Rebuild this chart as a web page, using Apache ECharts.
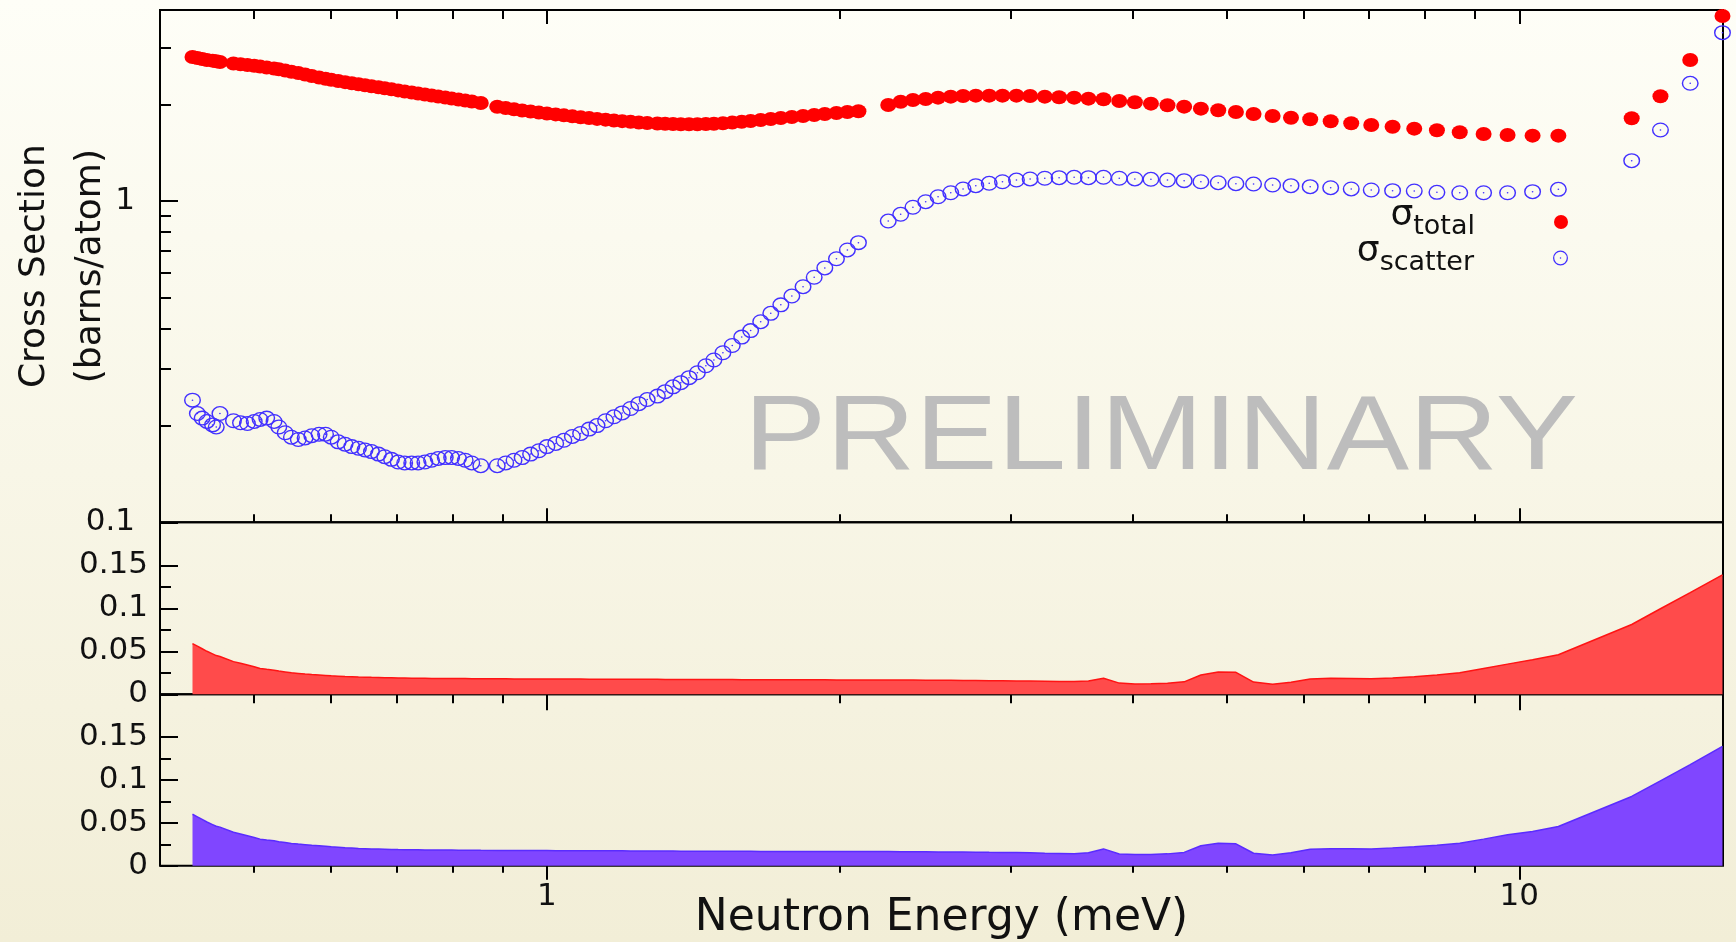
<!DOCTYPE html>
<html>
<head>
<meta charset="utf-8">
<script src="https://cdn.jsdelivr.net/npm/echarts@6/dist/echarts.min.js"></script>
<style>
  html, body { margin: 0; padding: 0; background: #f8f6e6; }
  #main { width: 1736px; height: 942px; }
</style>
</head>
<body>
<div id="main"></div>
<script>
// ---------------- data ----------------
// Neutron energy of each point (meV)
const energy = [
  0.432, 0.437, 0.442, 0.447, 0.453, 0.457, 0.461,
  0.476, 0.484, 0.492, 0.500, 0.507, 0.515, 0.524, 0.530, 0.538, 0.546,
  0.555, 0.564, 0.573, 0.583, 0.592, 0.600, 0.610, 0.620, 0.630, 0.640,
  0.650, 0.660, 0.671, 0.681, 0.692, 0.703, 0.714, 0.726, 0.737, 0.749,
  0.761, 0.773, 0.786, 0.798, 0.811, 0.824, 0.837, 0.855,
  0.889, 0.907, 0.925, 0.943, 0.962, 0.981, 1.000, 1.021, 1.041, 1.062,
  1.083, 1.105, 1.126, 1.149, 1.172, 1.195, 1.219, 1.243, 1.268,
  1.299, 1.323, 1.348, 1.373, 1.400, 1.428, 1.457, 1.485, 1.517, 1.551,
  1.586, 1.620, 1.659, 1.699, 1.740, 1.786, 1.834, 1.883, 1.931, 1.985,
  2.037, 2.091,
  2.244, 2.311, 2.379, 2.452, 2.525, 2.602, 2.679, 2.761, 2.850, 2.941,
  3.040, 3.140, 3.251, 3.363, 3.485, 3.605, 3.736, 3.878, 4.024, 4.180,
  4.347, 4.522, 4.705, 4.902, 5.112, 5.330, 5.576, 5.824, 6.095, 6.398,
  6.717, 7.043, 7.408, 7.798, 8.228, 8.685, 9.190, 9.727, 10.32, 10.97,
  13.05, 13.97, 14.99, 16.18
];
// total cross section (barns/atom)
const sigmaTotal = [
  2.807, 2.787, 2.767, 2.747, 2.734, 2.722, 2.708,
  2.679, 2.664, 2.650, 2.635, 2.620, 2.603, 2.585, 2.570, 2.548, 2.524,
  2.503, 2.476, 2.449, 2.423, 2.402, 2.383, 2.363, 2.343, 2.326, 2.309,
  2.291, 2.275, 2.260, 2.244, 2.228, 2.209, 2.192, 2.176, 2.161, 2.145,
  2.130, 2.115, 2.098, 2.083, 2.068, 2.053, 2.039, 2.018,
  1.964, 1.947, 1.929, 1.913, 1.898, 1.884, 1.872, 1.860, 1.847, 1.834,
  1.822, 1.811, 1.801, 1.791, 1.781, 1.772, 1.763, 1.755, 1.749,
  1.743, 1.739, 1.737, 1.734, 1.734, 1.734, 1.737, 1.740, 1.746, 1.754,
  1.764, 1.774, 1.787, 1.800, 1.813, 1.826, 1.839, 1.852, 1.866, 1.879,
  1.892, 1.903,
  1.990, 2.037, 2.062, 2.077, 2.097, 2.112, 2.123, 2.127, 2.127, 2.127,
  2.127, 2.123, 2.112, 2.103, 2.097, 2.082, 2.073, 2.048, 2.029, 2.009,
  1.986, 1.966, 1.938, 1.916, 1.892, 1.866, 1.839, 1.816, 1.796, 1.770,
  1.745, 1.724, 1.703, 1.679, 1.660, 1.636, 1.616, 1.605, 1.597, 1.597,
  1.809, 2.118, 2.747, 3.766
];
// scattering cross section (barns/atom)
const sigmaScatter = [
  0.240, 0.218, 0.211, 0.206, 0.201, 0.198, 0.218,
  0.207, 0.204, 0.203, 0.206, 0.209, 0.211, 0.206, 0.198, 0.190, 0.184,
  0.181, 0.183, 0.186, 0.188, 0.188, 0.184, 0.178, 0.175, 0.172, 0.170,
  0.168, 0.166, 0.163, 0.160, 0.157, 0.154, 0.153, 0.153, 0.153, 0.154,
  0.156, 0.158, 0.159, 0.159, 0.158, 0.156, 0.153, 0.150,
  0.150, 0.153, 0.156, 0.159, 0.163, 0.167, 0.172, 0.176, 0.180, 0.185,
  0.189, 0.195, 0.200, 0.207, 0.213, 0.219, 0.226, 0.234, 0.241,
  0.247, 0.255, 0.264, 0.272, 0.282, 0.292, 0.307, 0.320, 0.337, 0.355,
  0.377, 0.395, 0.421, 0.447, 0.475, 0.506, 0.541, 0.579, 0.619, 0.661,
  0.704, 0.742,
  0.866, 0.909, 0.956, 0.995, 1.031, 1.061, 1.090, 1.116, 1.135, 1.148,
  1.162, 1.171, 1.177, 1.182, 1.185, 1.182, 1.185, 1.177, 1.171, 1.168,
  1.162, 1.157, 1.148, 1.140, 1.132, 1.129, 1.121, 1.116, 1.108, 1.100,
  1.090, 1.082, 1.077, 1.074, 1.064, 1.061, 1.061, 1.061, 1.069, 1.087,
  1.335, 1.663, 2.324, 3.341
];
// uncertainty of total cross section (middle panel)
const errTotal = [
  0.059, 0.056, 0.053, 0.050, 0.047, 0.045, 0.044,
  0.038, 0.036, 0.034, 0.032, 0.030, 0.029, 0.028, 0.027, 0.026, 0.025,
  0.0243, 0.0236, 0.0230, 0.0225, 0.0220, 0.0215, 0.0211, 0.0207, 0.0204, 0.0201,
  0.0199, 0.0197, 0.0195, 0.0193, 0.0192, 0.0190, 0.0189, 0.0188, 0.0187, 0.0186,
  0.0185, 0.0185, 0.0184, 0.0184, 0.0183, 0.0183, 0.0182, 0.0181,
  0.0180, 0.0180, 0.0179, 0.0179, 0.0179, 0.0178, 0.0178, 0.0178, 0.0177, 0.0177,
  0.0177, 0.0176, 0.0176, 0.0176, 0.0175, 0.0175, 0.0175, 0.0174, 0.0174,
  0.0174, 0.0173, 0.0173, 0.0173, 0.0172, 0.0172, 0.0172, 0.0171, 0.0171, 0.0171,
  0.0170, 0.0170, 0.0170, 0.0169, 0.0169, 0.0169, 0.0168, 0.0168, 0.0168, 0.0167,
  0.0167, 0.0167,
  0.0167, 0.0166, 0.0165, 0.0164, 0.0163, 0.0162, 0.0161, 0.0160, 0.0158, 0.0157,
  0.0155, 0.0154, 0.0152, 0.0150, 0.0148, 0.0155, 0.0187, 0.0130, 0.0120, 0.0122,
  0.0128, 0.0145, 0.0225, 0.0258, 0.0255, 0.0142, 0.0117, 0.0141, 0.0178, 0.0187,
  0.0185, 0.0180, 0.0190, 0.0205, 0.0225, 0.0250, 0.0300, 0.0351, 0.0402, 0.0460,
  0.0812, 0.0995, 0.1183, 0.1389
];
// uncertainty of scattering cross section (bottom panel)
const errScatter = [
  0.060, 0.057, 0.054, 0.051, 0.048, 0.046, 0.045,
  0.039, 0.037, 0.035, 0.033, 0.031, 0.030, 0.029, 0.028, 0.027, 0.026,
  0.0252, 0.0245, 0.0238, 0.0232, 0.0226, 0.0220, 0.0215, 0.0210, 0.0206, 0.0202,
  0.0199, 0.0196, 0.0194, 0.0192, 0.0190, 0.0188, 0.0187, 0.0186, 0.0185, 0.0184,
  0.0183, 0.0183, 0.0182, 0.0182, 0.0181, 0.0181, 0.0180, 0.0179,
  0.0178, 0.0178, 0.0177, 0.0177, 0.0176, 0.0176, 0.0176, 0.0175, 0.0175, 0.0175,
  0.0174, 0.0174, 0.0174, 0.0173, 0.0173, 0.0173, 0.0172, 0.0172, 0.0172,
  0.0171, 0.0171, 0.0171, 0.0170, 0.0170, 0.0170, 0.0169, 0.0169, 0.0169, 0.0168,
  0.0168, 0.0168, 0.0167, 0.0167, 0.0167, 0.0166, 0.0166, 0.0166, 0.0165, 0.0165,
  0.0165, 0.0165,
  0.0165, 0.0164, 0.0163, 0.0162, 0.0161, 0.0160, 0.0159, 0.0158, 0.0156, 0.0155,
  0.0153, 0.0150, 0.0146, 0.0143, 0.0140, 0.0152, 0.0196, 0.0137, 0.0130, 0.0131,
  0.0138, 0.0155, 0.0232, 0.0262, 0.0255, 0.0145, 0.0125, 0.0152, 0.0192, 0.0199,
  0.0198, 0.0196, 0.0208, 0.0222, 0.0240, 0.0262, 0.0310, 0.0360, 0.0398, 0.0457,
  0.0808, 0.0990, 0.1179, 0.1393
];
// axis ticks / labels
const xMajorTicks = [1, 10];
const xMinorTicks = [0.5, 0.6, 0.7, 0.8, 0.9, 2, 3, 4, 5, 6, 7, 8, 9];
const yTopMajor = [0.1, 1];
const yTopMinor = [0.2, 0.3, 0.4, 0.5, 0.6, 0.7, 0.8, 0.9, 2, 3];
const yErrMajor = [0, 0.05, 0.1, 0.15];
const yErrMinor = [0.025, 0.075, 0.125];
const seriesNames = ['σtotal', 'σscatter'];

// ---------------- chart ----------------
const FONT = 'DejaVu Sans';
const INK = '#111111';
const X_MIN = 0.4, X_MAX = 16.2;
const chart = echarts.init(document.getElementById('main'), null, { renderer: 'canvas' });

const tickStyle = { color: '#000', width: 2 };
function xAx(grid, pos, ticks, len, extra) {
  return Object.assign({
    type: 'log', logBase: 10, gridIndex: grid, position: pos, min: X_MIN, max: X_MAX,
    axisLine: { show: false }, splitLine: { show: false },
    axisTick: { show: true, inside: true, length: len, customValues: ticks, lineStyle: tickStyle },
    axisLabel: { show: false }
  }, extra || {});
}
function yAx(grid, type, min, max, ticks, len, extra) {
  return Object.assign({
    type: type, gridIndex: grid, position: 'left', min: min, max: max,
    axisLine: { show: false }, splitLine: { show: false },
    axisTick: { show: true, inside: true, length: len, customValues: ticks, lineStyle: tickStyle },
    axisLabel: { show: false }
  }, extra || {});
}
const labelStyle = (margin, values) => ({
  show: true, customValues: values, margin: margin,
  fontFamily: FONT, fontSize: 31, color: INK
});

const ringPath = 'path://M10,0 A10,10 0 1,1 10,20 A10,10 0 1,1 10,0 Z ' +
  'M10,1.7 A8.3,8.3 0 1,0 10,18.3 A8.3,8.3 0 1,0 10,1.7 Z ' +
  'M10,9 A1,1 0 1,1 10,11 A1,1 0 1,1 10,9 Z';

const pairs = (ys) => energy.map((e, i) => [e, ys[i]]);

const legendRich = {
  s: { fontFamily: FONT, fontSize: 36, lineHeight: 36, color: INK, verticalAlign: 'bottom', padding: [0, 0, 6, 0] },
  sub: { fontFamily: FONT, fontSize: 27, lineHeight: 27, color: INK, verticalAlign: 'bottom' },
  g: { width: 73 }
};
const legendFmt = (n) => n === 'σtotal' ? '{s|σ}{sub|total}{g|}' : '{s|σ}{sub|scatter}{g|}';

const gridBase = { left: 160, right: 13, show: true, borderColor: '#000', borderWidth: 2, containLabel: false, outerBoundsMode: 'none' };

const option = {
  animation: false,
  backgroundColor: new echarts.graphic.LinearGradient(0, 0, 0, 1, [
    { offset: 0, color: '#fefef7' }, { offset: 1, color: '#f2eed7' }
  ]),
  grid: [
    Object.assign({ top: 10, height: 512.3 }, gridBase),
    Object.assign({ top: 522.3, height: 172 }, gridBase),
    Object.assign({ top: 694.3, height: 171.4 }, gridBase)
  ],
  xAxis: [
    xAx(0, 'bottom', xMajorTicks, 14),
    xAx(0, 'bottom', xMinorTicks, 8),
    xAx(0, 'top', xMajorTicks, 14),
    xAx(0, 'top', xMinorTicks, 9),
    xAx(1, 'top', xMajorTicks, 16),
    xAx(1, 'top', xMinorTicks, 9),
    xAx(2, 'top', xMajorTicks, 14),
    xAx(2, 'top', xMinorTicks, 7),
    xAx(2, 'bottom', xMajorTicks, 0, {
      axisTick: { show: false },
      axisLabel: labelStyle(16, xMajorTicks),
      name: 'Neutron Energy (meV)', nameLocation: 'middle', nameGap: 31, nameMoveOverlap: false,
      nameTextStyle: { fontFamily: FONT, fontSize: 44, color: INK }
    })
  ],
  yAxis: [
    yAx(0, 'log', 0.1, 3.93, yTopMajor, 18, {
      logBase: 10,
      axisLabel: labelStyle(25, yTopMajor),
      name: 'Cross Section\n(barns/atom)', nameLocation: 'middle', nameRotate: 90, nameGap: 41,
      nameMoveOverlap: false,
      nameTextStyle: { fontFamily: FONT, fontSize: 36, lineHeight: 56, color: INK }
    }),
    yAx(0, 'log', 0.1, 3.93, yTopMinor, 11, { logBase: 10 }),
    yAx(1, 'value', 0, 0.2, yErrMajor, 18, { axisLabel: labelStyle(12, yErrMajor) }),
    yAx(1, 'value', 0, 0.2, yErrMinor, 11),
    yAx(2, 'value', 0, 0.2, yErrMajor, 18, { axisLabel: labelStyle(12, yErrMajor) }),
    yAx(2, 'value', 0, 0.2, yErrMinor, 11)
  ],
  legend: [
    {
      data: [seriesNames[0]], orient: 'vertical', align: 'right', right: 168, top: 198, padding: 0,
      itemWidth: 16, itemHeight: 14, selectedMode: false, formatter: legendFmt,
      textStyle: { rich: legendRich }
    },
    {
      data: [seriesNames[1]], orient: 'vertical', align: 'right', right: 168, top: 234, padding: 0,
      itemWidth: 17, itemHeight: 15, selectedMode: false, formatter: legendFmt,
      textStyle: { rich: legendRich }
    }
  ],
  graphic: [
    {
      type: 'text', x: 1161, y: 439.6, scaleX: 1.175, z: -10, silent: true,
      style: {
        text: 'PRELIMINARY', fontFamily: 'Liberation Sans', fontSize: 105,
        fill: '#bdbdbd', align: 'center', verticalAlign: 'middle'
      }
    }
  ],
  series: [
    {
      name: seriesNames[0], type: 'scatter', xAxisIndex: 0, yAxisIndex: 0,
      symbol: 'circle', symbolSize: [16, 14],
      itemStyle: { color: '#ff0000', opacity: 1 },
      emphasis: { disabled: true }, z: 3,
      data: pairs(sigmaTotal)
    },
    {
      name: seriesNames[1], type: 'scatter', xAxisIndex: 0, yAxisIndex: 0,
      symbol: ringPath, symbolSize: [17, 15],
      itemStyle: { color: '#4230ff', opacity: 1 },
      emphasis: { disabled: true }, z: 2,
      data: pairs(sigmaScatter)
    },
    {
      name: 'err total', type: 'line', xAxisIndex: 4, yAxisIndex: 2,
      showSymbol: false, symbol: 'none',
      lineStyle: { color: '#ff1414', width: 1.5 },
      areaStyle: { color: '#ff4b4b', opacity: 1 },
      emphasis: { disabled: true },
      data: pairs(errTotal)
    },
    {
      name: 'err scatter', type: 'line', xAxisIndex: 6, yAxisIndex: 4,
      showSymbol: false, symbol: 'none',
      lineStyle: { color: '#5a2cff', width: 1.5 },
      areaStyle: { color: '#8046ff', opacity: 1 },
      emphasis: { disabled: true },
      data: pairs(errScatter)
    }
  ]
};
chart.setOption(option);
</script>
</body>
</html>
